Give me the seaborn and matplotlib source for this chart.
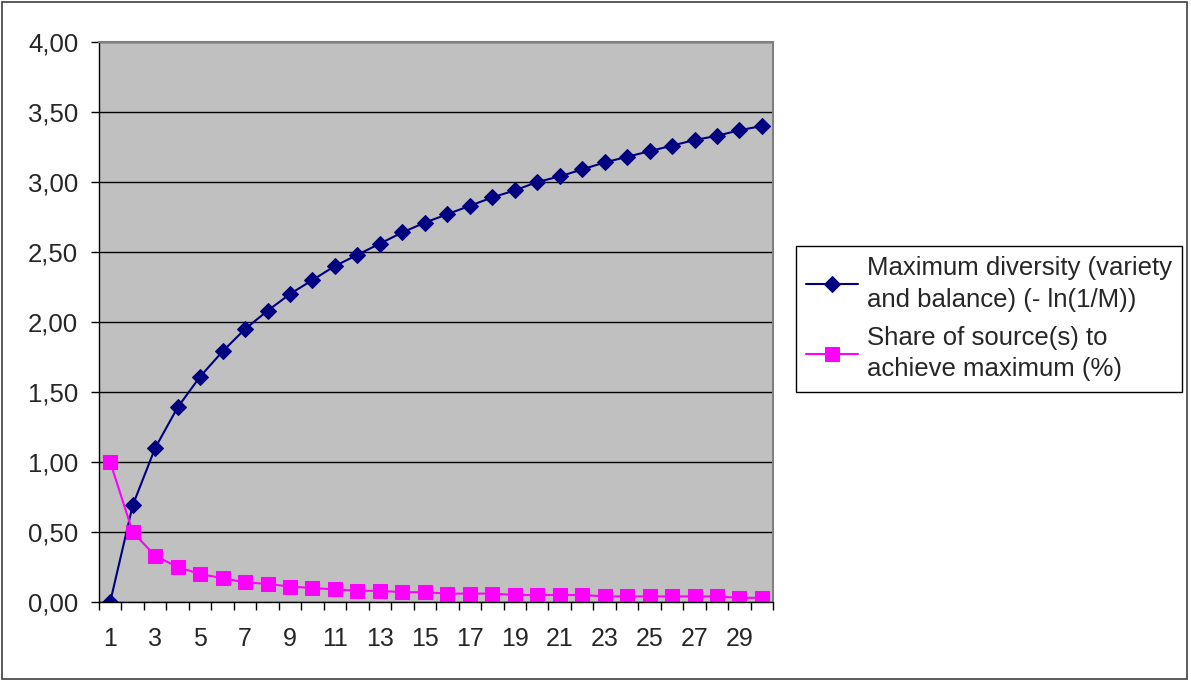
import matplotlib
matplotlib.use("Agg")
import matplotlib.pyplot as plt
import matplotlib.patches as mpatches
from matplotlib.ticker import FuncFormatter, FixedLocator
import seaborn as sns
import pandas as pd

# number of sources M
sources = list(range(1, 31))
max_diversity = [0.00, 0.69, 1.10, 1.39, 1.61, 1.79, 1.95, 2.08, 2.20, 2.30,
                 2.40, 2.48, 2.56, 2.64, 2.71, 2.77, 2.83, 2.89, 2.94, 3.00,
                 3.04, 3.09, 3.14, 3.18, 3.22, 3.26, 3.30, 3.33, 3.37, 3.40]
share = [1.00, 0.50, 0.33, 0.25, 0.20, 0.17, 0.14, 0.13, 0.11, 0.10,
         0.09, 0.08, 0.08, 0.07, 0.07, 0.06, 0.06, 0.06, 0.05, 0.05,
         0.05, 0.05, 0.04, 0.04, 0.04, 0.04, 0.04, 0.04, 0.03, 0.03]
label_div = "Maximum diversity (variety\nand balance) (- ln(1/M))"
label_share = "Share of source(s) to\nachieve maximum (%)"

df = pd.DataFrame({"M": sources, "div": max_diversity, "share": share})

sns.set_style("white")
plt.rcParams['font.family'] = ['Liberation Sans', 'DejaVu Sans']

fig = plt.figure(figsize=(11.91, 6.8), dpi=100)
ax = fig.add_axes([0.0831, 0.1147, 0.5661, 0.8235])
ax.set_facecolor("#c0c0c0")

sns.lineplot(data=df, x="M", y="div", ax=ax, color="#000080", marker="D",
             markersize=8.5, markeredgecolor="#000080", linewidth=1.5, label=label_div)
sns.lineplot(data=df, x="M", y="share", ax=ax, color="#ff00ff", marker="s",
             markersize=9.5, markeredgecolor="#ff00ff", linewidth=1.5, label=label_share)

ax.set_xlim(0.5, 30.5)
ax.set_ylim(0, 4)
ax.set_yticks([i * 0.5 for i in range(9)])
ax.yaxis.set_major_formatter(FuncFormatter(lambda v, p: f"{v:.2f}".replace(".", ",")))
ax.grid(axis="y", color="black", linewidth=1)
ax.set_axisbelow(True)

# tick marks between categories, labels at odd categories
ax.xaxis.set_major_locator(FixedLocator([i + 0.5 for i in range(0, 31)]))
ax.xaxis.set_major_formatter(FuncFormatter(lambda v, p: ""))
ax.xaxis.set_minor_locator(FixedLocator(sources[::2]))
ax.xaxis.set_minor_formatter(FuncFormatter(lambda v, p: f"{int(v)}"))
ax.tick_params(axis="x", which="major", length=6, width=1, color="black", direction="out", bottom=True)
ax.tick_params(axis="x", which="minor", length=0, labelsize=18, pad=18)
ax.tick_params(axis="y", length=6, width=1, color="black", direction="out", left=True, labelsize=18.5, pad=9)

ax.set_xlabel("")
ax.set_ylabel("")
for side in ["top", "right"]:
    ax.spines[side].set_color("#808080")
    ax.spines[side].set_linewidth(1.5)
for side in ["left", "bottom"]:
    ax.spines[side].set_color("black")
    ax.spines[side].set_linewidth(1)

leg = ax.legend(loc="upper left", bbox_to_anchor=(1.034, 0.636), fontsize=18.5,
                frameon=True, fancybox=False, framealpha=1, edgecolor="black",
                handlelength=2.0, borderpad=0.4, labelspacing=0.55, handletextpad=0.35,
                borderaxespad=0)
leg.get_frame().set_linewidth(1)
for t in leg.get_texts():
    t.set_linespacing(1.4)

fig.patches.append(mpatches.Rectangle((0.002, 0.002), 0.995, 0.995, transform=fig.transFigure,
                                      fill=False, edgecolor="#404040", linewidth=1.2))

fig.savefig("out.png", dpi=100)
